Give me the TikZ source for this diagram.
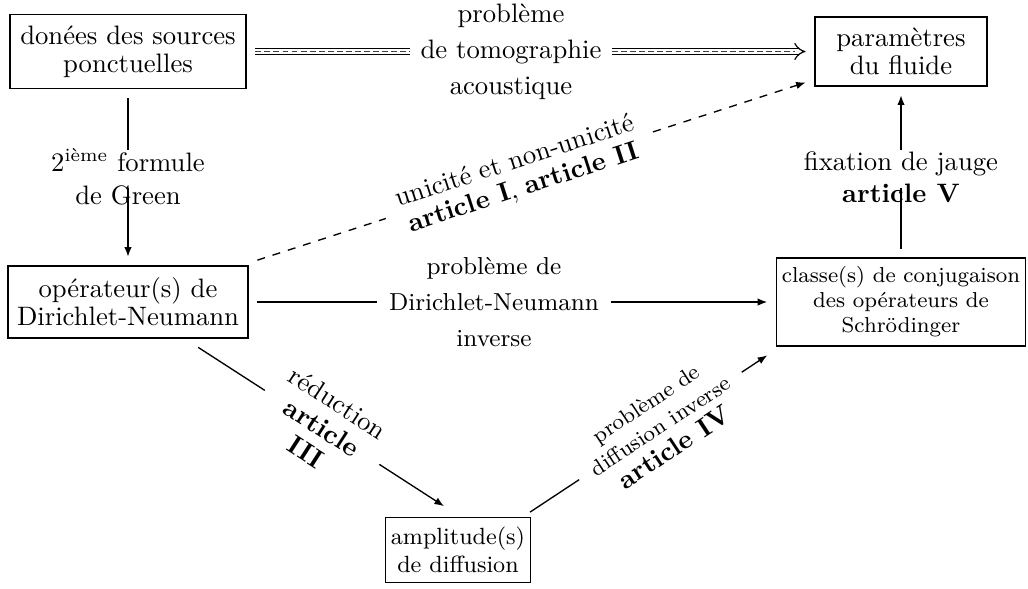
\documentclass[tikz,border=0pt]{standalone}
\usetikzlibrary{arrows.meta,calc}
\newcommand{\fs}[2]{\fontsize{#1}{#2}\selectfont}
\newcommand{\artb}[1]{{\fontsize{10}{10.5}\selectfont\bfseries #1}}
\begin{document}
\begin{tikzpicture}[x=0.375pt,y=-0.375pt,
  box/.style={draw, line width=0.5pt, align=center, inner xsep=2pt, inner ysep=3pt, outer sep=3.5pt},
  lbl/.style={align=center, inner sep=0pt, outer sep=0pt},
  ln/.style={line width=0.5pt},
  arr/.style={line width=0.5pt, -{Latex[length=3.6pt,width=2.8pt]}},
  dbl/.style={double, double distance=1.8pt, line width=0.45pt},
  middash/.style={line width=0.5pt, black!75, dash pattern=on 2.2pt off 1.2pt}]
\useasboundingbox (0,0) rectangle (1028,588);

% boxes
\node[box, font=\fs{10}{10.5}, minimum width=88.5pt, minimum height=27.75pt] (A) at (128,51.5) {donées des sources\\ponctuelles};
\node[box, font=\fs{10}{10.5}, minimum width=64.5pt, minimum height=25.9pt] (B) at (901,51.5) {paramètres\\du fluide};
\node[box, font=\fs{10}{10.5}, minimum width=90pt, minimum height=27pt] (C) at (128,302) {opérateur(s) de\\Dirichlet-Neumann};
\node[box, font=\fs{8.1}{9.4}, minimum width=90pt, minimum height=33pt] (D) at (901,302) {classe(s) de conjugaison\\des opérateurs de\\Schrödinger};
\node[box, font=\fs{8.8}{10.5}, minimum width=53.25pt, minimum height=24.4pt] (E) at (458,550) {amplitude(s)\\de diffusion};

% acoustic tomography (double arrow)
\node[lbl, font=\fs{10}{13.5}, inner xsep=4pt] (lt) at (511,51.5) {problème\\de tomographie\\acoustique};
\draw[dbl] (A) -- (lt);
\draw[middash] (A) -- (lt);
\draw[dbl, -{Implies}] (lt) -- (B);
\draw[middash, shorten >=4pt] (lt) -- (B);

% Green formula
\node[lbl, font=\fs{10}{12.4}] (lg) at (128,177) {2\textsuperscript{ième} formule\\de Green};
\coordinate (g1) at (128,150);
\coordinate (g2) at (128,188);
\draw[ln] (A) -- (g1);
\draw[arr] (g2) -- (C);

% inverse Dirichlet-Neumann problem
\node[lbl, font=\fs{9.2}{13.5}, inner xsep=4.5pt] (lcd) at (494,302) {problème de\\Dirichlet-Neumann\\inverse};
\draw[ln] (C) -- (lcd);
\draw[arr] (lcd) -- (D);

% gauge fixing
\node[lbl, font=\fs{10}{12}] (lf) at (901,177) {fixation de jauge\\\textbf{article V}};
\coordinate (f1) at (901,188);
\coordinate (f2) at (901,150);
\draw[ln] (D) -- (f1);
\draw[arr] (f2) -- (B);

% uniqueness (dashed)
\path (C) -- node[lbl, sloped, pos=0.478, inner xsep=6pt, font=\fs{10}{10.5}] (lu) {unicité et non-unicité\\\artb{article I}, \artb{article II}} (B);
\draw[ln, dashed] (C) -- (lu);
\draw[arr, dashed] (lu) -- (B);

% reduction
\coordinate (e1) at ($(E.north)+(-14,-2)$);
\path (C) -- node[lbl, sloped, pos=0.504, inner xsep=5pt, font=\fs{10}{11}] (lr) {réduction\\\artb{article}\\\artb{III}} (e1);
\draw[ln] (C) -- (lr);
\draw[arr] (lr) -- (e1);

% inverse scattering
\coordinate (e2) at ($(E.north)+(72,4)$);
\path (e2) -- node[lbl, sloped, pos=0.55, inner xsep=6pt, font=\fs{8.2}{10}] (ldi) {problème de\\diffusion inverse\\\artb{article IV}} (D.south west);
\draw[ln] (e2) -- (ldi);
\draw[arr] (ldi) -- (D.south west);
\end{tikzpicture}
\end{document}
